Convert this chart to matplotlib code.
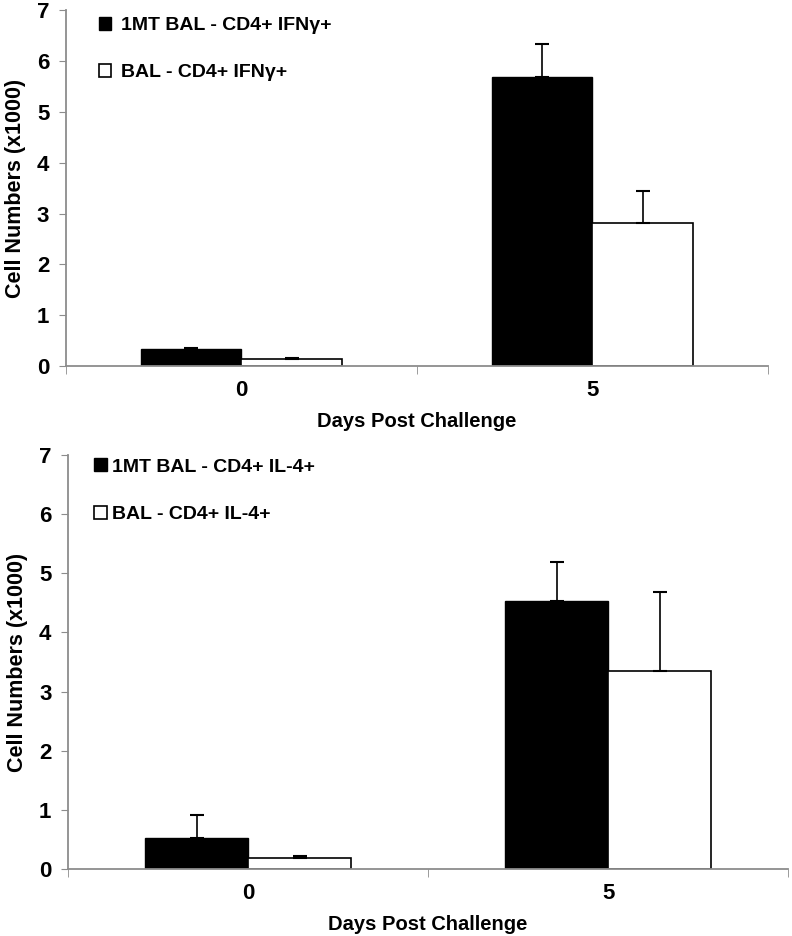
import numpy as np
import matplotlib.pyplot as plt

plt.rcParams['font.family'] = ['Liberation Sans', 'DejaVu Sans']
plt.rcParams['font.weight'] = 'bold'

days = ['0', '5']

# top panel: IFN-gamma
ifn_1mt = [0.33, 5.69]
ifn_1mt_err = [0.02, 0.65]
ifn_bal = [0.14, 2.82]
ifn_bal_err = [0.02, 0.63]

# bottom panel: IL-4
il4_1mt = [0.53, 4.53]
il4_1mt_err = [0.38, 0.66]
il4_bal = [0.19, 3.34]
il4_bal_err = [0.03, 1.34]

panels = [
    (ifn_1mt, ifn_1mt_err, ifn_bal, ifn_bal_err,
     '1MT BAL - CD4+ IFNγ+', 'BAL - CD4+ IFNγ+'),
    (il4_1mt, il4_1mt_err, il4_bal, il4_bal_err,
     '1MT BAL - CD4+ IL-4+', 'BAL - CD4+ IL-4+'),
]

fig = plt.figure(figsize=(7.92, 9.36), dpi=100)
ax_top = fig.add_axes([0.0833, 0.609, 0.8864, 0.380])
ax_bot = fig.add_axes([0.0859, 0.0716, 0.9091, 0.4423])

axis_gray = '#8c8c8c'
w = 0.286
x = np.arange(len(days))
leg_pos = [(0.03, 1.015), (0.02, 1.02)]
leg_pad = [0.5, 0.25]

for ax, (a, ae, b, be, la, lb), lp, hp in zip([ax_top, ax_bot], panels,
                                              leg_pos, leg_pad):
    ax.bar(x - w / 2, a, w, color='black', edgecolor='black', linewidth=1,
           yerr=[np.zeros(len(a)), ae], capsize=5,
           error_kw=dict(ecolor='black', elinewidth=1.2, capthick=1.5),
           label=la, zorder=2)
    ax.bar(x + w / 2, b, w, color='white', edgecolor='black', linewidth=1.2,
           yerr=[np.zeros(len(b)), be], capsize=5,
           error_kw=dict(ecolor='black', elinewidth=1.2, capthick=1.5),
           label=lb, zorder=2)

    ax.set_xlim(-0.5, 1.5)
    ax.set_ylim(0, 7)
    ax.set_yticks(range(0, 8))
    ax.set_xticks(x)
    ax.set_xticklabels(days)
    ax.set_xticks([-0.5, 0.5, 1.5], minor=True)
    ax.tick_params(axis='x', which='major', length=0, pad=10, labelsize=16)
    ax.tick_params(axis='x', which='minor', length=6, color=axis_gray,
                   direction='out')
    ax.tick_params(axis='y', length=5, color=axis_gray, labelsize=16, pad=7)
    for s in ['top', 'right']:
        ax.spines[s].set_visible(False)
    for s in ['left', 'bottom']:
        ax.spines[s].set_color(axis_gray)
        ax.spines[s].set_linewidth(1.3)

    ax.set_ylabel('Cell Numbers (x1000)', fontsize=15.5, fontweight='bold',
                  labelpad=8)
    ax.set_xlabel('Days Post Challenge', fontsize=14.5, fontweight='bold',
                  labelpad=8)

    ax.legend(loc='upper left', bbox_to_anchor=lp,
              frameon=False, handlelength=0.65,
              handleheight=0.65, handletextpad=hp, labelspacing=1.55,
              borderaxespad=0.2,
              prop=dict(family='Liberation Sans', weight='bold', size=14))

fig.savefig('out.png', dpi=100)
